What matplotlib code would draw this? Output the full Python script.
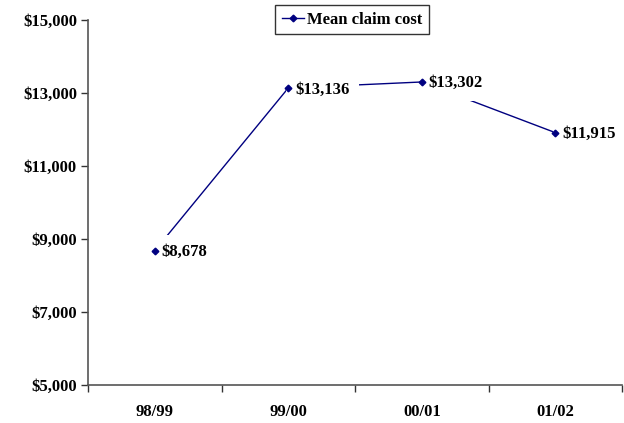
import numpy as np
import matplotlib.pyplot as plt
from matplotlib.ticker import FixedLocator, FuncFormatter

# datos
temporadas = ["98/99", "99/00", "00/01", "01/02"]
costo_medio = [8678, 13136, 13302, 11915]
etiqueta_serie = "Mean claim cost"

AZUL = "#000080"
plt.rcParams["font.family"] = ["Liberation Serif", "DejaVu Serif"]
plt.rcParams["font.weight"] = "bold"

fig = plt.figure(figsize=(6.24, 4.23), dpi=100)
ax = fig.add_axes([88 / 624, 1 - 385 / 423, 534 / 624, 365 / 423])

x = np.arange(len(temporadas))
# línea abajo, etiquetas con fondo blanco encima, marcadores arriba de todo
ax.plot(x, costo_medio, color=AZUL, lw=1.0, zorder=2)
ax.plot(x, costo_medio, ls="none", marker="D", ms=3.4, mfc=AZUL, mec=AZUL, zorder=5)
linea, = ax.plot([], [], color=AZUL, lw=1.0, marker="D", ms=3.4, label=etiqueta_serie)

for xi, v in zip(x, costo_medio):
    ax.annotate(f"${v:,}", xy=(xi, v), xytext=(5, -1), textcoords="offset points",
                ha="left", va="center", fontsize=12, fontweight="bold",
                bbox=dict(boxstyle="square,pad=0.55", fc="white", ec="none"),
                zorder=3)

ax.set_xlim(-0.5, len(temporadas) - 0.5)
ax.set_ylim(5000, 15000)
ax.set_yticks(np.arange(5000, 15001, 2000))
ax.yaxis.set_major_formatter(FuncFormatter(lambda v, p: f"${v:,.0f}"))

ax.set_xticks(x)
ax.set_xticklabels(temporadas)
ax.xaxis.set_minor_locator(FixedLocator(np.arange(-0.5, len(temporadas), 1.0)))
ax.tick_params(axis="x", which="major", length=0, pad=14, labelsize=12)
ax.tick_params(axis="x", which="minor", length=5, width=1, direction="out", color="#333")
ax.tick_params(axis="y", length=5, width=1, direction="out", color="#333", labelsize=12, pad=3)

for lbl in ax.get_xticklabels() + ax.get_yticklabels():
    lbl.set_fontweight("bold")

ax.spines[["top", "right"]].set_visible(False)
for s in ["left", "bottom"]:
    ax.spines[s].set_color("#555")
    ax.spines[s].set_linewidth(1.2)

leg = fig.legend(handles=[linea], loc="upper center", bbox_to_anchor=(352 / 624, 1 - 5 / 423),
                 frameon=True, fancybox=False, handlelength=1.3, handletextpad=0.2,
                 borderpad=0.4, borderaxespad=0, prop=dict(size=12, weight="bold"))
leg.get_frame().set_edgecolor("black")
leg.get_frame().set_linewidth(1.0)

fig.savefig("out.png", dpi=100, facecolor="white")
